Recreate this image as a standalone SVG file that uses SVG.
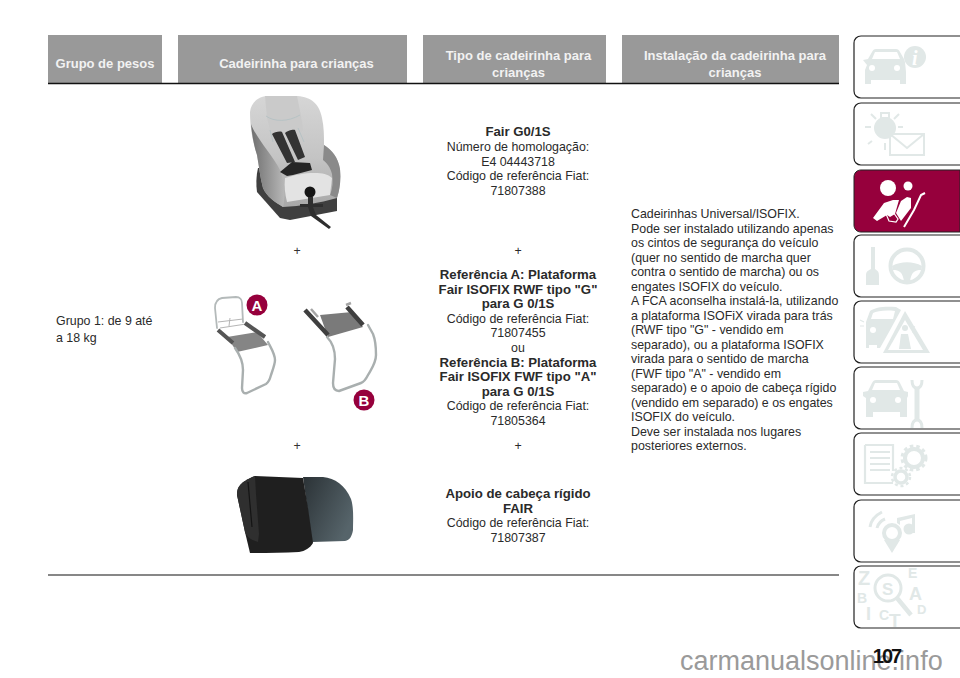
<svg xmlns="http://www.w3.org/2000/svg" width="960" height="678" viewBox="0 0 960 678">
<style>
text{font-family:"Liberation Sans",Arial,sans-serif;font-size:12.4px;fill:#2a2a2a}
.h{font-size:13px;font-weight:700;fill:#f2f2f2;text-anchor:middle}
.c{text-anchor:middle}
.b{font-weight:700;font-size:13.2px}
.tab{fill:#fff;stroke:#222;stroke-width:1.2}
.ic{fill:#e1e8e7}
.il{fill:none;stroke:#e1e8e7;stroke-width:2}
.k{fill:#e1e8e7;font-weight:700}
.tube{fill:none;stroke:#a9afaf;stroke-width:2.4;stroke-linejoin:round;stroke-linecap:round}
</style>
<defs>
<linearGradient id="shell" x1="0" y1="0" x2="0" y2="1"><stop offset="0" stop-color="#d6d6d6"/><stop offset=".55" stop-color="#c4c4c4"/><stop offset="1" stop-color="#a8a8a8"/></linearGradient>
<linearGradient id="wing" x1="0" y1="0" x2="1" y2="0"><stop offset="0" stop-color="#6f6f6f"/><stop offset=".6" stop-color="#9a9a9a"/><stop offset="1" stop-color="#b8b8b8"/></linearGradient>
<linearGradient id="rest" x1="0" y1="0" x2="1" y2=".6"><stop offset="0" stop-color="#2b3236"/><stop offset="1" stop-color="#56646a"/></linearGradient>
</defs>
<rect width="960" height="678" fill="#fff"/>
<g id="header">
<rect x="48" y="35" width="114" height="48" fill="#999"/>
<rect x="178" y="35" width="229" height="48" fill="#999"/>
<rect x="423" y="35" width="183" height="48" fill="#999"/>
<rect x="622" y="35" width="217" height="48" fill="#999"/>
<text class="h" x="105" y="68">Grupo de pesos</text>
<text class="h" x="296.500" y="68">Cadeirinha para crianças</text>
<text class="h" x="518.500" y="60">Tipo de cadeirinha para</text>
<text class="h" x="518.500" y="77">crianças</text>
<text class="h" x="735" y="60">Instalação da cadeirinha para</text>
<text class="h" x="735" y="77">crianças</text>
</g>
<g id="rules" stroke="#111" fill="none">
<line x1="48" y1="83.500" x2="839" y2="83.500" stroke-width="1.600"/>
<line x1="48" y1="575" x2="839" y2="575" stroke-width="1.200"/>
</g>
<g id="col1"><text x="56" y="325">Grupo 1: de 9 até</text><text x="56" y="342">a 18 kg</text></g>
<g id="seat">
<path d="M258 168c-2 8-2 17-1 24l23 26 10 2 47-9v-14l-60-30z" fill="#3f3f3f"/>
<path d="M250 112c1-9 8-16 18-16h27c14 0 24 6 27 22 2 9 2 18 2 27 8 5 14 12 16 24 1 10 0 20-3 29-18 5-36 8-54 9-8-5-16-10-20-19-3-11-4-22-6-33-4-12-7-27-7-43z" fill="url(#shell)"/>
<path d="M251 124c5 14 22 32 29 46 4 10 6 24 3 37-8-5-16-10-20-19-3-11-4-22-6-33-3-9-5-20-6-31z" fill="url(#wing)"/>
<path d="M324 145c8 5 14 12 16 24 1 10 0 20-3 29l-7-3c3-7 3-14 2-21-2-7-5-11-9-14z" fill="#8a8a8a"/>
<path d="M265 96h32c2 11 5 22 6 34l-8 6-24-2-4-16z" fill="#cacaca"/>
<path d="M266 116c8 6 22 6 34-1M270 130l3 12M298 128l6 14" fill="none" stroke="#aebfc2" stroke-width=".7"/>
<path d="M272 134c2-2 8-3 10-2l13 30-8 1zM285 133c2-2 8-4 10-3l10 27-7 3z" fill="#333"/>
<path d="M280 172l12-10 18 1 2 7-19 5-6 1z" fill="#262626"/>
<path d="M285 178c10-3 18-5 30-5 7 0 13 1 17 5l-2 17-43 7c-2-8-3-16-2-24z" fill="#e3e3e3"/>
<circle cx="310" cy="192" r="5.500" fill="#151515"/>
<path d="M308 197h5v7h10v3h-10l3 8 15 12-2 2-18-13-3-9h-8v-3h8z" fill="#2e2e2e"/>
<text class="c" x="297" y="255" style="fill:#333">+</text>
<text class="c" x="297" y="450" style="fill:#333">+</text>
</g>
<g id="tipo">
<text class="c b" x="518" y="136">Fair G0/1S</text>
<text class="c" x="518" y="151">Número de homologação:</text>
<text class="c" x="518" y="165.500">E4 04443718</text>
<text class="c" x="518" y="180">Código de referência Fiat:</text>
<text class="c" x="518" y="194.500">71807388</text>
<text class="c" x="518" y="255">+</text>
<text class="c b" x="518" y="279">Referência A: Plataforma</text>
<text class="c b" x="518" y="293.600">Fair ISOFIX RWF tipo "G"</text>
<text class="c b" x="518" y="308.200">para G 0/1S</text>
<text class="c" x="518" y="322.800">Código de referência Fiat:</text>
<text class="c" x="518" y="337.400">71807455</text>
<text class="c" x="518" y="352">ou</text>
<text class="c b" x="518" y="366.600">Referência B: Plataforma</text>
<text class="c b" x="518" y="381.200">Fair ISOFIX FWF tipo "A"</text>
<text class="c b" x="518" y="395.800">para G 0/1S</text>
<text class="c" x="518" y="410.400">Código de referência Fiat:</text>
<text class="c" x="518" y="425">71805364</text>
<text class="c" x="518" y="450">+</text>
<text class="c b" x="518" y="498">Apoio de cabeça rígido</text>
<text class="c b" x="518" y="512.500">FAIR</text>
<text class="c" x="518" y="527">Código de referência Fiat:</text>
<text class="c" x="518" y="541.500">71807387</text>
</g>
<g id="instalacao">
<text x="631" y="218">Cadeirinhas Universal/ISOFIX.</text>
<text x="631" y="232.500">Pode ser instalado utilizando apenas</text>
<text x="631" y="247">os cintos de segurança do veículo</text>
<text x="631" y="261.500">(quer no sentido de marcha quer</text>
<text x="631" y="276">contra o sentido de marcha) ou os</text>
<text x="631" y="290.500">engates ISOFIX do veículo.</text>
<text x="631" y="305">A FCA aconselha instalá-la, utilizando</text>
<text x="631" y="319.500">a plataforma ISOFiX virada para trás</text>
<text x="631" y="334">(RWF tipo "G" - vendido em</text>
<text x="631" y="348.500">separado), ou a plataforma ISOFIX</text>
<text x="631" y="363">virada para o sentido de marcha</text>
<text x="631" y="377.500">(FWF tipo "A" - vendido em</text>
<text x="631" y="392">separado) e o apoio de cabeça rígido</text>
<text x="631" y="406.500">(vendido em separado) e os engates</text>
<text x="631" y="421">ISOFIX do veículo.</text>
<text x="631" y="435.500">Deve ser instalada nos lugares</text>
<text x="631" y="450">posteriores externos.</text>
</g>
<g id="platform-a">
<path class="tube" d="M217 328l-2-20c0-6 2-9 7-10l14-1c4 0 6 3 6 6l1 19" style="stroke:#b4baba;stroke-width:1.800"/>
<path d="M218 322l25-3M220 328l26-4M230 318l-1 8" fill="none" stroke="#b5b5b5" stroke-width="1"/>
<path d="M227 337l30-5 11 13-31 7z" fill="#858585"/>
<path d="M218 330l15 13M245 323l20 14" stroke="#555" stroke-width="4" fill="none"/>
<path class="tube" d="M235 348c5 7 8 14 8 22l-1 18c0 4 2 6 5 5l19-9c3-2 4-5 5-9 2-6 4-11 4-15 0-6-4-12-7-18"/>
</g>
<g id="platform-b">
<path d="M320 315l32-3 11 15-35 10z" fill="#7a7a7a"/>
<path class="tube" d="M327 337c6 6 8 14 8 22l-2 24c0 5 2 8 6 8l22-8c3-1 5-4 7-8 4-7 8-12 8-20 0-9-1-16-3-21l-5-9"/>
<path d="M305 310l23 25M347 307l16 18" stroke="#3f3f3f" stroke-width="4.500" fill="none"/>
<path d="M311 309l7 8M346 305l5-2" stroke="#a5a5a5" stroke-width="2.500" fill="none"/>
</g>
<g id="badge-a"><circle cx="257" cy="305" r="10.500" fill="#96003c"/><text class="c b" x="257" y="310.500" style="font-size:15px;fill:#fff">A</text></g>
<g id="badge-b"><circle cx="364" cy="400" r="10.500" fill="#96003c"/><text class="c b" x="364" y="405.500" style="font-size:15px;fill:#fff">B</text></g>
<g id="headrest">
<path d="M303 477h20c12 1 22 8 28 22 3 9 2 22 2 31-1 6-3 10-8 11l-33 1z" fill="url(#rest)"/>
<path d="M237 495c0-8 3-13 18-19l48 2 5 30 5 35c-3 5-8 8-14 9-16 1-32 1-49 1l-5-21z" fill="#1f1f1f"/>
<path d="M237 495c0-8 3-13 18-19l1 18 3 40-1 8c-6-2-12-5-13-10z" fill="#2f2f2f"/>
<path d="M248 482l4 45" stroke="#141414" stroke-width="1.200" fill="none"/>
</g>
<g id="tabs">
<g id="tab-1"><path class="tab" d="M960 36H861c-4 0-7 3-7 7v48c0 4 3 7 7 7h99"/>
<path class="ic" d="M863 60l5-1 4-7c1-2 2-3 4-3h20c2 0 3 1 4 3l4 7 1 3 1 10v12h-6v-4h-29v4h-6V70l2-5z"/><path d="M875 52h22l3 7h-28z" fill="#fff"/><circle cx="872" cy="68" r="3" fill="#fff"/><circle cx="897" cy="68" r="3" fill="#fff"/><circle cx="915" cy="57" r="11" class="ic"/><text x="912" y="65" style="font:italic 700 20px 'Liberation Serif',serif;fill:#fff">i</text></g>
<g id="tab-2"><path class="tab" d="M960 103H861c-4 0-7 3-7 7v48c0 4 3 7 7 7h99"/>
<circle cx="885" cy="128" r="11" class="ic"/><rect x="881" y="113" width="8" height="5" class="il"/><path class="il" d="M865 127h6M871 114l5 5M899 114l-5 5M898 127h5M872 141l-4 3M885 143v7"/><path class="il" d="M890 134h34v21h-34zM890 134l17 14 17-14"/></g>
<g id="tab-3"><path d="M960 170H861c-4 0-7 3-7 7v48c0 4 3 7 7 7h99z" fill="#96003c" stroke="#222" stroke-width="1"/>
<circle cx="888" cy="188" r="8" fill="#fff"/><circle cx="908" cy="186" r="4.500" fill="#fff"/><path d="M873 218l11-15 9-3 6 0-4 14-5 3-3-2-10 6z" fill="#fff"/><path d="M911 198l-4-1-6 4-5 12 5 8 10-13z" fill="#fff"/><path d="M904 227l10-17 7-15 4-2" fill="none" stroke="#fff" stroke-width="2"/><path d="M886 214l7-2 5 7-2 3-7-1z" fill="none" stroke="#fff" stroke-width="1.200"/></g>
<g id="tab-4"><path class="tab" d="M960 235H861c-4 0-7 3-7 7v48c0 4 3 7 7 7h99"/>
<path class="ic" d="M871 247h4v22c3 2 4 3 4 7v9h-13v-9c0-4 1-5 5-7z"/><circle cx="907" cy="266" r="16.500" fill="none" stroke="#e1e8e7" stroke-width="4"/><path class="ic" d="M892 266c9-5 21-5 30 0l-1 4c-6 0-10 2-11 12h-6c-1-10-5-12-11-12z"/></g>
<g id="tab-5"><path class="tab" d="M960 301H861c-4 0-7 3-7 7v48c0 4 3 7 7 7h99"/>
<path class="ic" d="M866 322l4-11c5-4 15-5 26-4l5 3-12 22-9 16h-3v-3h-8v3h-3v-24z"/><path d="M873 313c4-2 12-3 22-2l-2 8h-22z" fill="#fff"/><circle cx="873" cy="330" r="3" fill="#fff"/><path d="M905 311l25 42h-47z" fill="#e1e8e7"/><path d="M905 320l18 30h-35z" fill="#fff"/><circle cx="905" cy="328" r="3" class="ic"/><path class="ic" d="M899 349l2-15h7l3 15z"/><path class="il" style="stroke-width:1.200" d="M860 320l4 2M860 326h4M912 326l3 1M912 332h3"/></g>
<g id="tab-6"><path class="tab" d="M960 367H861c-4 0-7 3-7 7v48c0 4 3 7 7 7h99"/>
<path class="ic" d="M863 392l5-1 4-8c1-2 2-3 4-3h20c2 0 3 1 4 3l4 8 4 1v4l-1 2v19h-7v-5h-27v5h-7v-19l-3-2z"/><path d="M875 383h22l3 7h-28z" fill="#fff"/><circle cx="873" cy="400" r="3" fill="#fff"/><circle cx="898" cy="400" r="3" fill="#fff"/><path class="il" style="stroke-width:5" d="M917 388v32"/><path d="M912 380c0 6 2 8 5 8s5-2 5-8" fill="none" stroke="#e1e8e7" stroke-width="3"/><path d="M912 428c0-6 2-8 5-8s5 2 5 8" fill="none" stroke="#e1e8e7" stroke-width="3"/></g>
<g id="tab-7"><path class="tab" d="M960 433H861c-4 0-7 3-7 7v48c0 4 3 7 7 7h99"/>
<path class="il" d="M865 445v38h28M865 445h28v26M870 452h20M870 458h20M870 464h20M870 470h20" style="stroke-width:2.200"/><circle cx="914" cy="458" r="9" fill="none" stroke="#e1e8e7" stroke-width="4"/><circle cx="914" cy="458" r="12" fill="none" stroke="#e1e8e7" stroke-width="3" stroke-dasharray="3.500 3"/><circle cx="901" cy="477" r="6" fill="none" stroke="#e1e8e7" stroke-width="3.500"/><circle cx="901" cy="477" r="9" fill="none" stroke="#e1e8e7" stroke-width="2.500" stroke-dasharray="3 2.800"/></g>
<g id="tab-8"><path class="tab" d="M960 500H861c-4 0-7 3-7 7v48c0 4 3 7 7 7h99"/>
<path class="il" style="stroke-width:3" d="M870 527c1-7 6-12 12-15M877 528c1-4 3-7 8-9"/><circle cx="892" cy="533" r="8" fill="none" stroke="#e1e8e7" stroke-width="4"/><path class="ic" d="M884 540l8 13 8-13z"/><path class="ic" d="M897 518l18-4 0 19h-3v-15l-12 3 0 4-3-2z"/><circle cx="909" cy="529" r="5.500" class="ic"/></g>
<g id="tab-9"><path class="tab" d="M960 566H861c-4 0-7 3-7 7v48c0 4 3 7 7 7h99"/>
<text class="k" x="858" y="585" style="font-size:20px;fill:#e1e8e7">Z</text><text class="k" x="857" y="603" style="font-size:14px;fill:#e1e8e7">B</text><text class="k" x="866" y="620" style="font-size:18px;fill:#e1e8e7">I</text><text class="k" x="879" y="620" style="font-size:14px;fill:#e1e8e7">C</text><text class="k" x="889" y="627" style="font-size:19px;fill:#e1e8e7">T</text><text class="k" x="908" y="578" style="font-size:14px;fill:#e1e8e7">E</text><text class="k" x="909" y="600" style="font-size:18px;fill:#e1e8e7">A</text><text class="k" x="917" y="614" style="font-size:13px;fill:#e1e8e7">D</text>
<text class="k" x="882" y="595" style="font-size:17px;fill:#e1e8e7">S</text>
<circle cx="888" cy="588" r="13" fill="none" stroke="#e1e8e7" stroke-width="3"/><path class="il" style="stroke-width:4.500" d="M897 598l14 17"/></g>
</g>
<g id="footer">
<text x="680" y="670" style="font-size:27px;fill:#9a9a9a">carmanualsonline.info</text>
<text class="c b" x="886.500" y="663" style="font-size:20px;fill:#111;letter-spacing:-2px">107</text>
</g>
</svg>
